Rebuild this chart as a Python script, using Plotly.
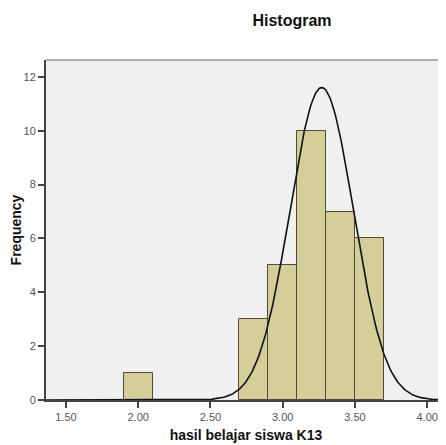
import numpy as np
import plotly.graph_objects as go

# Histogram data (bin edges 0.2 wide)
bin_left = [1.90, 2.70, 2.90, 3.10, 3.30, 3.50]
bin_width = 0.20
frequencies = [1, 3, 5, 10, 7, 6]

# Fitted normal curve parameters
curve_mean = 3.27
curve_sd = 0.22
n_total = sum(frequencies)

x_ticks = [1.5, 2.0, 2.5, 3.0, 3.5, 4.0]
y_ticks = [0, 2, 4, 6, 8, 10, 12]

centers = [b + bin_width / 2 for b in bin_left]

xs = np.linspace(1.36, 4.2, 400)
ys = n_total * bin_width / (curve_sd * np.sqrt(2 * np.pi)) * np.exp(-0.5 * ((xs - curve_mean) / curve_sd) ** 2)

W, H = 438, 437  # page has an 8px body margin

fig = go.Figure()
fig.add_trace(go.Bar(
    x=centers, y=frequencies, width=[bin_width] * len(centers),
    marker=dict(color="#D4CF99", line=dict(color="#4f4c33", width=1)),
    showlegend=False, hoverinfo="skip",
))
fig.add_trace(go.Scatter(
    x=xs, y=ys, mode="lines",
    line=dict(color="#111111", width=1.6),
    showlegend=False, hoverinfo="skip",
))

fig.update_layout(
    width=W, height=H,
    margin=dict(l=38, r=0, t=52, b=45),
    paper_bgcolor="white",
    plot_bgcolor="#F0F0F0",
    font=dict(family="Liberation Sans, Arial, sans-serif", color="#111"),
    title=dict(text="<b>Histogram</b>", x=284 / W, xanchor="center",
               y=1 - 12 / H, yanchor="middle",
               font=dict(size=16, color="#111")),
    bargap=0,
    xaxis=dict(
        range=[1.362, 4.13], tickvals=x_ticks, tickformat=".2f",
        showgrid=False, zeroline=False,
        showline=True, linecolor="#444", linewidth=2,
        ticks="outside", ticklen=6, tickwidth=1.5, tickcolor="#444",
        tickfont=dict(size=11, color="#555"),
        title=dict(text="<b>hasil belajar siswa K13</b>", font=dict(size=14, color="#111"), standoff=8),
    ),
    yaxis=dict(
        range=[0, 12.63], tickvals=y_ticks,
        showgrid=False, zeroline=False,
        showline=True, linecolor="#444", linewidth=2,
        ticks="outside", ticklen=6, tickwidth=1.5, tickcolor="#444",
        tickfont=dict(size=11, color="#555"),
        title=dict(text="<b>Frequency</b>", font=dict(size=14, color="#111"), standoff=6),
    ),
    shapes=[dict(type="line", xref="paper", yref="paper", x0=0, x1=1, y0=1, y1=1,
                 line=dict(color="#999", width=1.5))],
)

fig.write_html("out.html")
